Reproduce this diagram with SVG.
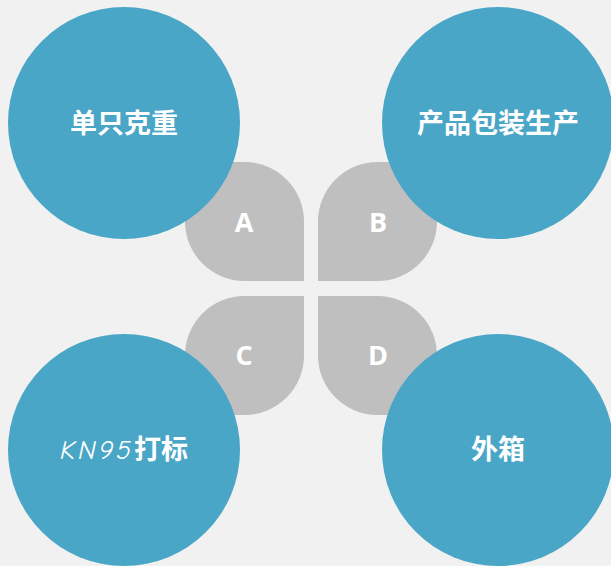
<svg xmlns="http://www.w3.org/2000/svg" width="611" height="566" viewBox="0 0 611 566">
<style>
.petal{fill:#bfbfbf}
.circ{fill:#4aa6c6}
.lt{font-family:"Open Sans","Liberation Sans",sans-serif;font-weight:bold;font-size:27px;fill:#fff;text-anchor:middle}
.ct{font-family:"Noto Sans CJK SC","Noto Sans",sans-serif;font-weight:bold;font-size:27px;fill:#fff;text-anchor:middle}
</style>
<rect width="611" height="566" fill="#f1f1f1"/>
<g id="petal-A"><path class="petal" d="M185,162 H244.5 A59.5,59.5 0 0 1 304,221.5 V281 H244.5 A59.5,59.5 0 0 1 185,221.5 Z"/><text class="lt" x="244" y="232">A</text></g>
<g id="petal-B"><path class="petal" d="M318,221.5 A59.5,59.5 0 0 1 377.5,162 H437 V221.5 A59.5,59.5 0 0 1 377.5,281 H318 Z"/><text class="lt" x="378" y="232">B</text></g>
<g id="petal-C"><path class="petal" d="M185,355.5 A59.5,59.5 0 0 1 244.5,296 H304 V355.5 A59.5,59.5 0 0 1 244.5,415 H185 Z"/><text class="lt" x="244" y="365">C</text></g>
<g id="petal-D"><path class="petal" d="M318,296 H377.5 A59.5,59.5 0 0 1 437,355.5 V415 H377.5 A59.5,59.5 0 0 1 318,355.5 Z"/><text class="lt" x="378" y="365">D</text></g>
<g id="node-weight"><circle class="circ" cx="124" cy="123" r="116"/><text class="ct" x="124" y="133">单只克重</text></g>
<g id="node-packaging"><circle class="circ" cx="498" cy="123" r="116"/><text class="ct" x="498" y="133">产品包装生产</text></g>
<g id="node-kn95"><circle class="circ" cx="124" cy="450" r="116"/><text class="ct" x="124" y="459"><tspan font-family="'Comic Neue','DejaVu Sans',sans-serif" font-weight="normal" font-style="italic" letter-spacing="3">KN95</tspan>打标</text></g>
<g id="node-box"><circle class="circ" cx="498" cy="450" r="116"/><text class="ct" x="498" y="459">外箱</text></g>
<g id="connectors"></g>
</svg>
